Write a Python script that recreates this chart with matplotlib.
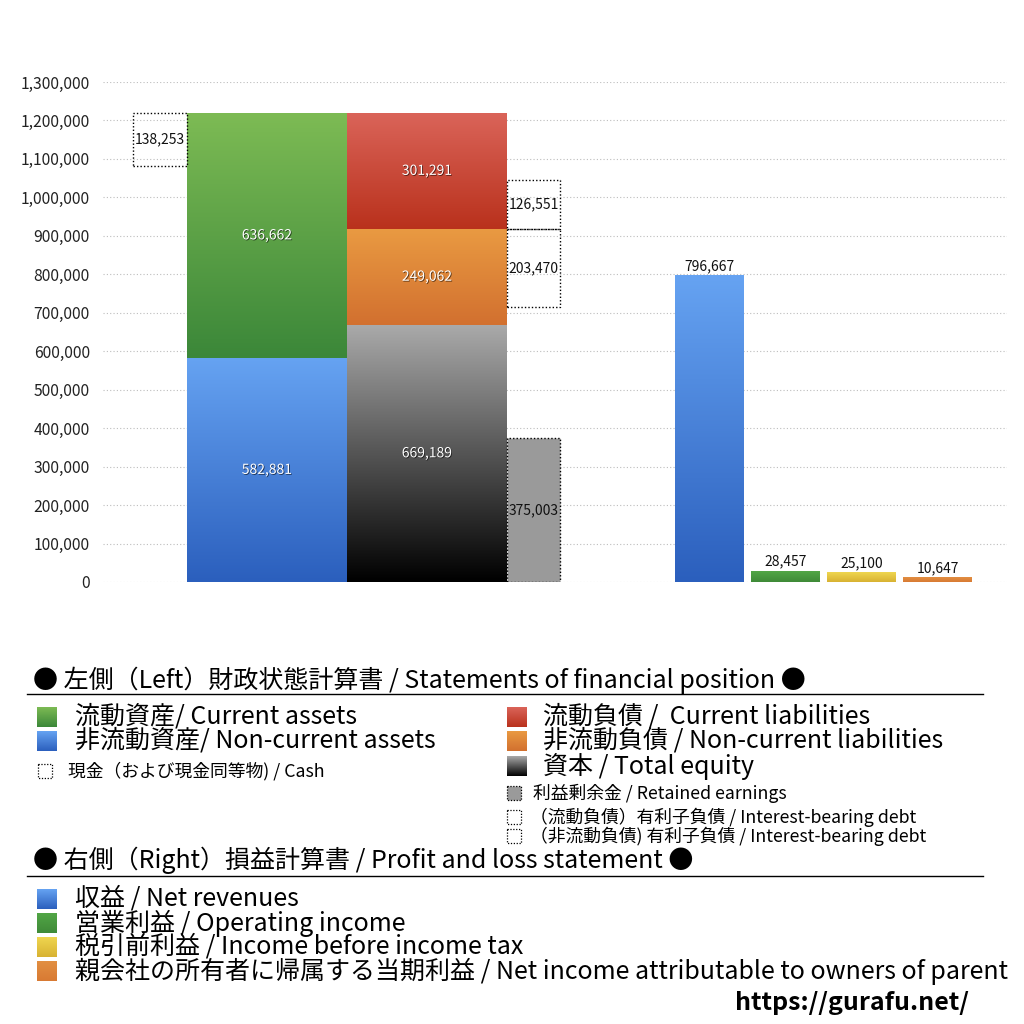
import numpy as np
import matplotlib
matplotlib.use("Agg")
import matplotlib.pyplot as plt
import matplotlib.patheffects as pe
from matplotlib.colors import LinearSegmentedColormap
from matplotlib.patches import Rectangle
from matplotlib.ticker import FuncFormatter

plt.rcParams['font.family'] = ['Noto Sans CJK JP', 'DejaVu Sans']

# balance sheet (left)
noncurrent_assets = 582881
current_assets = 636662
cash = 138253
equity = 669189
noncurrent_liab = 249062
current_liab = 301291
retained_earnings = 375003
ibd_current = 126551
ibd_noncurrent = 203470

# profit and loss (right)
pl_values = [796667, 28457, 25100, 10647]

y_ticks = list(range(0, 1300001, 100000))

# legend texts
header_left = "● 左側（Left）財政状態計算書 / Statements of financial position ●"
header_right = "● 右側（Right）損益計算書 / Profit and loss statement ●"
legend_assets = ["流動資産/ Current assets", "非流動資産/ Non-current assets"]
legend_cash = "現金（および現金同等物) / Cash"
legend_liab = ["流動負債 /  Current liabilities", "非流動負債 / Non-current liabilities",
               "資本 / Total equity"]
legend_retained = "利益剰余金 / Retained earnings"
legend_ibd = ["（流動負債）有利子負債 / Interest-bearing debt",
              "（非流動負債) 有利子負債 / Interest-bearing debt"]
legend_pl = ["収益 / Net revenues", "営業利益 / Operating income",
             "税引前利益 / Income before income tax",
             "親会社の所有者に帰属する当期利益 / Net income attributable to owners of parent"]
url = "https://gurafu.net/"

# colours (top, bottom)
GREEN = ("#7dbb54", "#3b8739")
BLUE = ("#66a3f2", "#2b5fbd")
RED = ("#da6459", "#b9311c")
ORANGE = ("#e99a42", "#d2702f")
BLACK = ("#aaaaaa", "#000000")
PL_COLORS = [BLUE, ("#52a646", "#3f8a38"), ("#efd650", "#d8b232"), ("#e28f42", "#d87a33")]

BIG = 18
SMALL = 12.8
VAL = 10


def gradient(ax, x0, y_top, x1, y_bot, colors, z=2):
    cmap = LinearSegmentedColormap.from_list("g", [colors[1], colors[0]])
    arr = np.linspace(0, 1, 256).reshape(-1, 1)
    ax.imshow(arr, extent=(x0, x1, y_bot, y_top), origin="lower", cmap=cmap,
              aspect="auto", zorder=z, interpolation="bilinear")


def grad_bar(ax, x, h, w, bottom, colors):
    b = ax.bar(x, h, w, bottom=bottom, align="edge", color=colors[1], zorder=2)[0]
    gradient(ax, b.get_x(), b.get_y() + b.get_height(), b.get_x() + b.get_width(),
             b.get_y(), colors, z=2.1)
    return b


def dotted_box(ax, x, h, w, bottom, face="none"):
    b = ax.bar(x, h, w, bottom=bottom, align="edge", color=face, edgecolor="black",
               linewidth=1, linestyle=(0, (1, 1.5)), zorder=3)[0]
    return b


shadow = [pe.SimplePatchShadow(offset=(0.6, -0.6), shadow_rgbFace="black", alpha=0.6), pe.Normal()]

fig = plt.figure(figsize=(10.24, 10.24), dpi=100)
ax = fig.add_axes([103 / 1024, (1024 - 582) / 1024, 904 / 1024, 500 / 1024])

# bar positions in axis pixel units
x_cash, w_cash = 30, 54
x_assets, w_main = 84, 160
x_liab = 244
x_side, w_side = 404, 53
x_pl, w_pl, step_pl = 572, 69, 76

# left: assets
grad_bar(ax, x_assets, noncurrent_assets, w_main, 0, BLUE)
ax.text(x_assets + w_main / 2, noncurrent_assets / 2, f"{noncurrent_assets:,}", color="white",
        ha="center", va="center", fontsize=VAL, zorder=5, path_effects=shadow)
total_assets = noncurrent_assets + current_assets
grad_bar(ax, x_assets, current_assets, w_main, noncurrent_assets, GREEN)
ax.text(x_assets + w_main / 2, noncurrent_assets + current_assets / 2, f"{current_assets:,}",
        color="white", ha="center", va="center", fontsize=VAL, zorder=5, path_effects=shadow)
dotted_box(ax, x_cash, cash, w_cash, total_assets - cash)
ax.text(x_cash + w_cash / 2, total_assets - cash / 2, f"{cash:,}", ha="center", va="center",
        fontsize=VAL, color="#111111", zorder=5)

# left: liabilities and equity
grad_bar(ax, x_liab, equity, w_main, 0, BLACK)
ax.text(x_liab + w_main / 2, equity / 2, f"{equity:,}", color="white", ha="center",
        va="center", fontsize=VAL, zorder=5, path_effects=shadow)
grad_bar(ax, x_liab, noncurrent_liab, w_main, equity, ORANGE)
ax.text(x_liab + w_main / 2, equity + noncurrent_liab / 2, f"{noncurrent_liab:,}",
        color="white", ha="center", va="center", fontsize=VAL, zorder=5, path_effects=shadow)
cl_bottom = equity + noncurrent_liab
grad_bar(ax, x_liab, current_liab, w_main, cl_bottom, RED)
ax.text(x_liab + w_main / 2, cl_bottom + current_liab / 2, f"{current_liab:,}",
        color="white", ha="center", va="center", fontsize=VAL, zorder=5, path_effects=shadow)

dotted_box(ax, x_side, retained_earnings, w_side, 0, face="#9a9a9a")
ax.text(x_side + w_side / 2, retained_earnings / 2, f"{retained_earnings:,}", ha="center",
        va="center", fontsize=VAL, color="#111111", zorder=5)
dotted_box(ax, x_side, ibd_current, w_side, cl_bottom)
ax.text(x_side + w_side / 2, cl_bottom + ibd_current / 2, f"{ibd_current:,}", ha="center",
        va="center", fontsize=VAL, color="#111111", zorder=5)
dotted_box(ax, x_side, ibd_noncurrent, w_side, cl_bottom - ibd_noncurrent)
ax.text(x_side + w_side / 2, cl_bottom - ibd_noncurrent / 2, f"{ibd_noncurrent:,}", ha="center",
        va="center", fontsize=VAL, color="#111111", zorder=5)

# right: P&L
for i, (v, c) in enumerate(zip(pl_values, PL_COLORS)):
    bb = grad_bar(ax, x_pl + i * step_pl, v, w_pl, 0, c)
    ax.text(bb.get_x() + w_pl / 2, v + 6000, f"{v:,}", ha="center", va="bottom",
            fontsize=VAL, color="#111111", zorder=5)

ax.set_xlim(0, 904)
ax.set_ylim(0, 1300000)
ax.set_yticks(y_ticks)
ax.yaxis.set_major_formatter(FuncFormatter(lambda v, p: f"{int(v):,}"))
ax.set_xticks([])
ax.tick_params(axis="y", length=0, pad=9.4, labelsize=11.3, labelcolor="#222222")
ax.grid(axis="y", linestyle=(0, (1, 2)), color="#bdbdbd", linewidth=0.8, zorder=0)
ax.set_axisbelow(True)
for s in ax.spines.values():
    s.set_visible(False)

# legend area drawn in figure pixel coordinates
lg = fig.add_axes([0, 0, 1, 1], zorder=-1)
lg.set_xlim(0, 1024)
lg.set_ylim(1024, 0)
lg.axis("off")


def big_item(x_sq, x_txt, y, text, colors):
    gradient(lg, x_sq, y - 10, x_sq + 20, y + 10, colors)
    lg.text(x_txt, y, text, ha="left", va="center", fontsize=BIG, color="black")


def small_item(x_sq, x_txt, y, text, face="none"):
    lg.add_patch(Rectangle((x_sq, y - 7), 14, 14, facecolor=face, edgecolor="black",
                           linewidth=0.9, linestyle=(0, (1, 1.3))))
    lg.text(x_txt, y, text, ha="left", va="center", fontsize=SMALL, color="black")


lg.text(33, 680, header_left, ha="left", va="center", fontsize=BIG)
lg.plot([27, 983], [694, 694], color="black", lw=1)
big_item(37, 75, 717, legend_assets[0], GREEN)
big_item(37, 75, 741, legend_assets[1], BLUE)
small_item(38, 68, 771, legend_cash)
big_item(507, 543, 717, legend_liab[0], RED)
big_item(507, 543, 741, legend_liab[1], ORANGE)
big_item(507, 543, 766, legend_liab[2], BLACK)
small_item(507, 533, 793, legend_retained, face="#9a9a9a")
small_item(507, 530, 817, legend_ibd[0])
small_item(507, 530, 836, legend_ibd[1])

lg.text(33, 860, header_right, ha="left", va="center", fontsize=BIG)
lg.plot([27, 983], [876, 876], color="black", lw=1)
for i, (t, c) in enumerate(zip(legend_pl, PL_COLORS)):
    big_item(37, 75, 899 + i * 24, t, c)

lg.text(735, 1003, url, ha="left", va="center", fontsize=18, fontweight="bold")

fig.savefig("out.png", dpi=100)
